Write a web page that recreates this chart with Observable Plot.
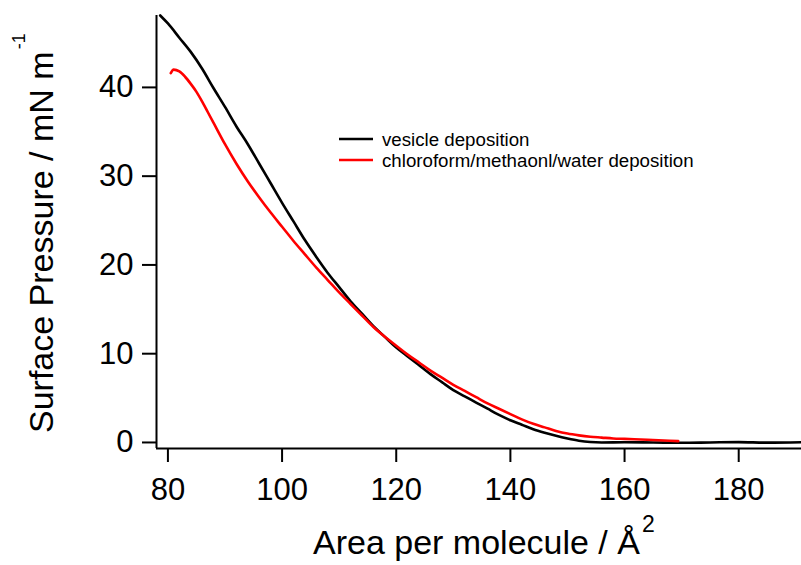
<!DOCTYPE html>
<html><head><meta charset="utf-8">
<script src="https://cdn.jsdelivr.net/npm/d3@7"></script>
<script src="https://cdn.jsdelivr.net/npm/@observablehq/plot@0.6"></script>
<style>
body{margin:0;background:#fff;}
#chart{width:801px;height:565px;}
</style></head><body><div id="chart"></div>
<script>
// Series names and colours
const seriesNames = ["vesicle deposition", "chloroform/methaonl/water deposition"];
const seriesColors = ["#000000", "#ff0000"];

// Vesicle deposition isotherm (area per molecule Å², surface pressure mN/m)
const vesicleArea = [78.65, 80, 82, 84, 86, 88, 90, 92, 94, 96, 98, 100, 102, 104, 106, 108, 110, 112, 114, 116, 118, 120, 122, 124, 126, 128, 130, 132, 134, 136, 138, 140, 142, 144, 146, 148, 150, 152, 154, 156, 160, 165, 170, 175, 180, 185, 191];
const vesiclePressure = [48.1, 47.2, 45.6, 44.0, 42.1, 39.9, 37.8, 35.6, 33.6, 31.4, 29.2, 27.0, 24.9, 22.8, 20.9, 19.1, 17.5, 15.9, 14.5, 13.1, 11.9, 10.7, 9.7, 8.7, 7.7, 6.8, 5.9, 5.2, 4.5, 3.8, 3.1, 2.5, 2.0, 1.5, 1.1, 0.75, 0.45, 0.2, 0.05, 0.0, 0.03, 0.0, -0.04, 0.0, 0.04, -0.02, 0.03];

// Chloroform/methanol/water deposition isotherm
const cmwArea = [80.5, 81.0, 82, 83, 84, 85, 86, 87, 88, 90, 92, 94, 96, 98, 100, 102, 104, 106, 108, 110, 112, 114, 116, 118, 120, 122, 124, 126, 128, 130, 132, 134, 136, 138, 140, 142, 144, 146, 148, 150, 152, 154, 156, 158, 160, 164, 169.4];
const cmwPressure = [41.6, 42.0, 41.8, 41.2, 40.4, 39.5, 38.4, 37.2, 36.0, 33.6, 31.4, 29.4, 27.6, 25.9, 24.3, 22.7, 21.2, 19.7, 18.3, 16.9, 15.6, 14.3, 13.0, 11.9, 10.9, 9.9, 9.0, 8.1, 7.3, 6.5, 5.8, 5.1, 4.4, 3.8, 3.2, 2.6, 2.1, 1.7, 1.3, 1.0, 0.8, 0.65, 0.55, 0.45, 0.4, 0.3, 0.15];

// Axis ticks
const xTicks = [80, 100, 120, 140, 160, 180];
const yTicks = [0, 10, 20, 30, 40];
const xDomain = [78, 191];
const yDomain = [-0.68, 48.1];

const rows = [
  ...vesicleArea.map((a, i) => ({area: a, pressure: vesiclePressure[i], series: seriesNames[0]})),
  ...cmwArea.map((a, i) => ({area: a, pressure: cmwPressure[i], series: seriesNames[1]}))
];

const FONT = '"Liberation Sans", Arial, Helvetica, sans-serif';

const plot = Plot.plot({
  width: 801,
  height: 565,
  marginLeft: 156,
  marginRight: 0,
  marginTop: 15,
  marginBottom: 117,
  style: {fontFamily: FONT, fontSize: "31px", color: "#000", background: "#fff", overflow: "visible"},
  x: {domain: xDomain, label: null},
  y: {domain: yDomain, label: null},
  color: {domain: seriesNames, range: seriesColors},
  marks: [
    Plot.axisX({ticks: xTicks, tickSize: 14, tickPadding: 15, strokeWidth: 2, fontSize: 31, label: null}),
    Plot.axisY({ticks: yTicks, tickSize: 14, tickPadding: 9, strokeWidth: 2, fontSize: 31, label: null}),
    Plot.ruleY([yDomain[0]], {stroke: "#000", strokeWidth: 2}),
    Plot.ruleX([xDomain[0]], {stroke: "#000", strokeWidth: 2}),
    Plot.line(rows, {x: "area", y: "pressure", z: "series", stroke: "series", strokeWidth: 2.6, curve: "monotone-x"})
  ]
});

document.getElementById("chart").appendChild(plot);

const svg = d3.select(plot);
// X axis title with superscript
const xt = svg.append("text").attr("x", 313).attr("y", 554).attr("font-size", 34)
  .attr("fill", "#000").attr("text-anchor", "start");
xt.append("tspan").text("Area per molecule / Å");
xt.append("tspan").attr("font-size", 23).attr("dy", -22).attr("dx", 2).text("2");

// Y axis title with superscript
const yt = svg.append("text").attr("transform", "translate(53,433) rotate(-90)").attr("font-size", 34)
  .attr("fill", "#000").attr("text-anchor", "start");
yt.append("tspan").text("Surface Pressure / mN m");
yt.append("tspan").attr("font-size", 18).attr("dy", -28).attr("dx", 2).text("-1");

// Legend
const lg = svg.append("g").attr("text-anchor", "start");
seriesNames.forEach((name, i) => {
  const y = 139 + 21 * i;
  lg.append("line").attr("x1", 339).attr("x2", 373).attr("y1", y).attr("y2", y)
    .attr("stroke", seriesColors[i]).attr("stroke-width", 2.7);
  lg.append("text").attr("x", 382).attr("y", y + 6.5).attr("font-size", 18.7).attr("fill", "#000").text(name);
});
</script>
</body></html>
